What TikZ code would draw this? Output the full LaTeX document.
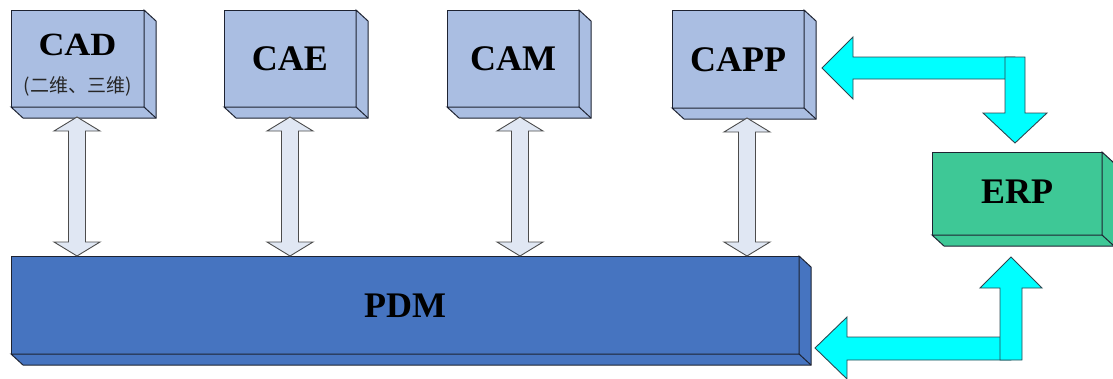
\documentclass[tikz,border=0pt]{standalone}
\usepackage{fontspec}
\setmainfont{Liberation Serif}
\newfontfamily\cjk{Noto Sans CJK SC}
\usetikzlibrary{calc}
\definecolor{boxblue}{RGB}{170,190,226}
\definecolor{pdmblue}{RGB}{70,116,192}
\definecolor{erpgreen}{RGB}{62,200,150}
\definecolor{arrowfill}{RGB}{224,231,243}
\definecolor{edgecol}{RGB}{30,35,50}
\definecolor{cyanfill}{RGB}{0,255,255}
\definecolor{cyanedge}{RGB}{45,70,80}
\newcommand\cubebox[6]{%
  \node[face, fill=#6, minimum width=#4pt, minimum height=#5pt] (#1) at (#2,#3) {};
  \draw[faceline, fill=#6] (#1.north east) -- ++(12,11) -- ($(#1.south east)+(12pt,-11pt)$)
     -- ($(#1.south west)+(12pt,-11pt)$) -- (#1.south west) -- (#1.south east) -- cycle;
  \draw[faceline] (#1.south east) -- ++(12,11);
}
\newcommand\dblarrow[4]{% name, x, top, bottom
  \draw[dblarr] (#2,#3) coordinate (#1t) -- (#2+23,#3+14) -- (#2+8.5,#3+14) -- (#2+8.5,#4-14)
    -- (#2+23,#4-14) -- (#2,#4) coordinate (#1b) -- (#2-23,#4-14) -- (#2-8.5,#4-14)
    -- (#2-8.5,#3+14) -- (#2-23,#3+14) -- cycle;
}
\begin{document}
\begin{tikzpicture}[x=1pt,y=-1pt,
  face/.style={draw=edgecol, line width=1pt, inner sep=0pt, outer sep=0pt, anchor=north west},
  faceline/.style={draw=edgecol, line width=1pt, line join=miter},
  lbl/.style={font=\bfseries\fontsize{36}{36}\selectfont, anchor=base, inner sep=0pt},
  dblarr/.style={draw=gray!60!black, fill=arrowfill, line width=0.9pt, line join=miter},
  cyanarr/.style={draw=cyanedge, fill=cyanfill, line width=0.9pt, line join=miter}]
\useasboundingbox (0,0) rectangle (1113,378);

% cyan arrows (behind boxes)
\draw[cyanarr] (822,68) -- (853,37) -- (853,57) -- (1015,57) -- (1015,79) -- (853,79) -- (853,99) -- cycle;
\draw[cyanarr] (1005,57) -- (1025,57) -- (1025,113) -- (1047,113) -- (1015,143) -- (983,113) -- (1005,113) -- cycle;
\draw[cyanarr] (815,348) -- (847,317) -- (847,337) -- (1011,337) -- (1011,360) -- (847,360) -- (847,379) -- cycle;
\draw[cyanarr] (1000,360) -- (1000,288) -- (980,288) -- (1011,257) -- (1042,288) -- (1022,288) -- (1022,360) -- cycle;

\cubebox{cad}{11}{10}{133}{97}{boxblue}
\cubebox{cae}{224}{10}{132}{97}{boxblue}
\cubebox{cam}{447}{10}{132}{97}{boxblue}
\cubebox{capp}{672}{10}{132}{98}{boxblue}
\cubebox{pdm}{11}{256}{788}{98}{pdmblue}
\cubebox{erp}{932}{152}{170}{83}{erpgreen}

\dblarrow{a1}{77}{117}{256}
\dblarrow{a2}{290}{117}{256}
\dblarrow{a3}{520}{117}{256}
\dblarrow{a4}{747}{118}{256}

\node[lbl] (tcad) at (77.5,55) {\scalebox{1}[0.9]{CAD}};
\node[anchor=base, inner sep=0pt, text=black!85, font=\cjk\fontsize{19}{19}\selectfont] (tsub) at (77.5,92) {(二维、三维)};
\node[lbl] (tcae) at (290,70) {CAE};
\node[lbl] (tcam) at (513,70) {CAM};
\node[lbl] (tcapp) at (738,71) {CAPP};
\node[lbl] (tpdm) at (405,317) {PDM};
\node[lbl] (terp) at (1017,203) {ERP};
\end{tikzpicture}
\end{document}
